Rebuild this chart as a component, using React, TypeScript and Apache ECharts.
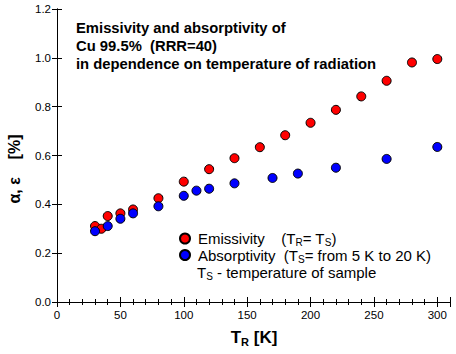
import React, { useEffect, useRef } from "react";
import * as echarts from "echarts";

const emisT = [30, 35, 40, 50, 60, 80, 100, 120, 140, 160, 180, 200, 220, 240, 260, 280, 300];
const emisV = [0.311, 0.30, 0.352, 0.363, 0.379, 0.425, 0.493, 0.544, 0.589, 0.634, 0.683, 0.734, 0.787, 0.842, 0.906, 0.981, 0.995];
const absT = [30, 40, 50, 60, 80, 100, 110, 120, 140, 170, 190, 220, 260, 300];
const absV = [0.29, 0.311, 0.341, 0.363, 0.392, 0.435, 0.456, 0.464, 0.486, 0.508, 0.526, 0.55, 0.586, 0.635];

const titleLines = [
  "Emissivity and absorptivity of",
  "Cu 99.5%  (RRR=40)",
  "in dependence on temperature of radiation",
];

const FONT = "Liberation Sans, Arial, sans-serif";

export default function App() {
  const ref = useRef<HTMLDivElement>(null);
  useEffect(() => {
    if (!ref.current) return;
    const chart = echarts.init(ref.current, undefined, { renderer: "svg" });
    const rich = {
      n: { fontSize: 15, fontFamily: FONT, color: "#000", lineHeight: 18, verticalAlign: "middle" },
      s: { fontSize: 10, fontFamily: FONT, color: "#000", lineHeight: 2, verticalAlign: "bottom" },
    };
    const axisCommon = {
      type: "value",
      axisLine: { show: true, lineStyle: { color: "#000", width: 1 } },
      splitLine: { show: false },
    };
    chart.setOption({
      animation: false,
      backgroundColor: "#fff",
      grid: { left: 57, right: 6, top: 9, bottom: 52, containLabel: false },
      xAxis: [
        {
          ...axisCommon,
          position: "bottom",
          min: 0,
          max: 310,
          interval: 50,
          axisTick: { show: true, inside: true, length: 5, lineStyle: { color: "#000" } },
          minorTick: { show: true, splitNumber: 5, length: 3, lineStyle: { color: "#000" } },
          axisLabel: { show: true, showMaxLabel: false, fontSize: 11.5, fontFamily: FONT, color: "#000", margin: 7 },
        },
        {
          ...axisCommon,
          position: "top",
          min: 0,
          max: 310,
          interval: 50,
          axisTick: { show: true, inside: true, length: 5, lineStyle: { color: "#000" } },
          minorTick: { show: true, splitNumber: 5, length: 3, lineStyle: { color: "#000" } },
          axisLabel: { show: false },
        },
      ],
      yAxis: [
        {
          ...axisCommon,
          position: "left",
          min: 0,
          max: 1.2,
          interval: 0.2,
          axisTick: { show: true, inside: true, length: 5, lineStyle: { color: "#000" } },
          axisLabel: {
            show: true,
            fontSize: 11.5,
            fontFamily: FONT,
            color: "#000",
            margin: 6,
            formatter: (v: number) => v.toFixed(1),
          },
        },
        {
          ...axisCommon,
          position: "right",
          min: 0,
          max: 1.2,
          interval: 0.2,
          axisTick: { show: true, inside: true, length: 5, lineStyle: { color: "#000" } },
          axisLabel: { show: false },
        },
      ],
      legend: {
        show: true,
        orient: "vertical",
        left: 174,
        top: 226,
        itemWidth: 10,
        itemHeight: 10,
        itemGap: 0,
        icon: "circle",
        data: ["Emissivity", "Absorptivity"],
        textStyle: { rich, padding: [0, 0, 0, 3] },
        formatter: (name: string) =>
          name === "Emissivity"
            ? "{n|Emissivity    (T}{s|R}{n|= T}{s|S}{n|)}"
            : "{n|Absorptivity  (T}{s|S}{n|= from 5 K to 20 K)}",
      },
      graphic: [
        {
          type: "text",
          left: 76,
          top: 19,
          style: {
            text: titleLines.join("\n"),
            font: "bold 14.8px " + FONT,
            fill: "#000",
            lineHeight: 18,
          },
        },
        {
          type: "text",
          x: 197,
          y: 272,
          style: {
            text: "{n|T}{s|S}{n| - temperature of sample}",
            rich,
            verticalAlign: "middle",
          },
        },
        {
          type: "text",
          x: 14,
          y: 169,
          rotation: Math.PI / 2,
          style: {
            text: "α, ε    [%]",
            font: "bold 16px " + FONT,
            fill: "#000",
            align: "center",
            verticalAlign: "middle",
          },
        },
        {
          type: "text",
          x: 254,
          y: 337,
          style: {
            text: "{b|T}{t|R}{b| [K]}",
            align: "center",
            verticalAlign: "middle",
            rich: {
              b: { fontSize: 17, fontWeight: "bold", fontFamily: FONT, color: "#000", lineHeight: 20, verticalAlign: "middle" },
              t: { fontSize: 11, fontWeight: "bold", fontFamily: FONT, color: "#000", lineHeight: 4, verticalAlign: "bottom" },
            },
          },
        },
      ],
      series: [
        {
          name: "Emissivity",
          type: "scatter",
          xAxisIndex: 0,
          yAxisIndex: 0,
          symbol: "circle",
          symbolSize: 9,
          itemStyle: { color: "#ff0000", borderColor: "#000", borderWidth: 1, opacity: 1 },
          data: emisT.map((t, i) => [t, emisV[i]]),
        },
        {
          name: "Absorptivity",
          type: "scatter",
          xAxisIndex: 0,
          yAxisIndex: 0,
          symbol: "circle",
          symbolSize: 9,
          itemStyle: { color: "#0000ff", borderColor: "#000", borderWidth: 1, opacity: 1 },
          data: absT.map((t, i) => [t, absV[i]]),
        },
      ],
    });
    return () => chart.dispose();
  }, []);
  return <div ref={ref} style={{ width: 456, height: 354, position: "absolute", left: 0, top: 0 }} />;
}
